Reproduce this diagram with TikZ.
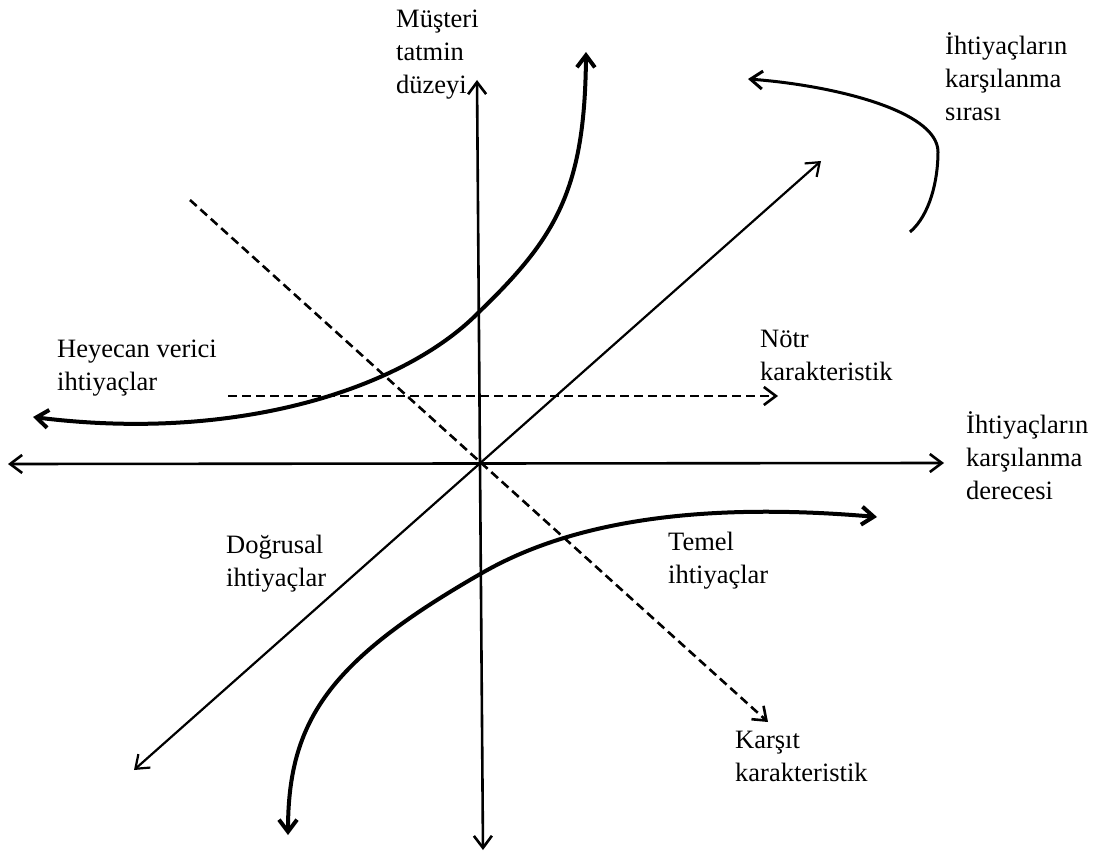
\documentclass[tikz,border=0pt]{standalone}
\usepackage{fontspec}
\setmainfont{Liberation Serif}
\usetikzlibrary{arrows.meta}
\begin{document}
\begin{tikzpicture}[x=1pt,y=-1pt,
  >={Straight Barb[length=12pt,width=18pt]},
  lbl/.style={anchor=north west,inner sep=0pt,align=left,font=\fontsize{26.5}{33}\selectfont},
  axis/.style={line width=2.6pt},
  lin/.style={line width=2.2pt},
  dsh/.style={line width=2.6pt,dash pattern=on 9pt off 5pt},
  curve/.style={line width=4pt},
  turn/.style={line width=3pt}]
\useasboundingbox (0,0) rectangle (1095,856);
% named end points
\coordinate (hl) at (8,464);
\coordinate (hr) at (944,463);
\coordinate (vt) at (477,80);
\coordinate (vb) at (483,850);
\coordinate (dl) at (134,770);
\coordinate (du) at (821,161);
\coordinate (ns) at (228,396);
\coordinate (ne) at (778,396);
\coordinate (ks) at (190,200);
\coordinate (ke) at (768,722);
\coordinate (hyL) at (33,417);
\coordinate (hyM) at (478,313);
\coordinate (hyT) at (586,52);
\coordinate (tmB) at (288,835);
\coordinate (tmM) at (482,573);
\coordinate (tmR) at (877,517);
\coordinate (srS) at (910,232);
\coordinate (srM) at (938,152);
\coordinate (srE) at (748,79);
% axes
\draw[axis,<->] (hl) -- (hr);
\draw[axis,<->] (vb) -- (vt);
% linear
\draw[lin,<->] (dl) -- (du);
% dashed
\draw[dsh,->] (ns) -- (ne);
\draw[dsh,->] (ks) -- (ke);
% curves
\draw[curve,<->] (hyL) .. controls (240,443) and (405,387) .. (hyM) .. controls (556,238) and (585,190) .. (hyT);
\draw[curve,<->] (tmB) .. controls (288,720) and (330,660) .. (tmM) .. controls (560,528) and (680,500) .. (tmR);
\draw[turn,->] (srS) .. controls (930,215) and (938,180) .. (srM) .. controls (938,110) and (830,85) .. (srE);
% labels
\node[lbl] (mt) at (396,3.9) {\strut Müşteri\\tatmin\\düzeyi};
\node[lbl] (ks1) at (945,30.9) {\strut İhtiyaçların\\karşılanma\\sırası};
\node[lbl] (hv) at (57,333.9) {\strut Heyecan verici\\ihtiyaçlar};
\node[lbl] (nk) at (760,323.9) {\strut Nötr\\karakteristik};
\node[lbl] (kd) at (966,409.9) {\strut İhtiyaçların\\karşılanma\\derecesi};
\node[lbl] (di) at (226,529.9) {\strut Doğrusal\\ihtiyaçlar};
\node[lbl] (ti) at (668,526.9) {\strut Temel\\ihtiyaçlar};
\node[lbl] (kk) at (735,724.9) {\strut Karşıt\\karakteristik};
\end{tikzpicture}
\end{document}
